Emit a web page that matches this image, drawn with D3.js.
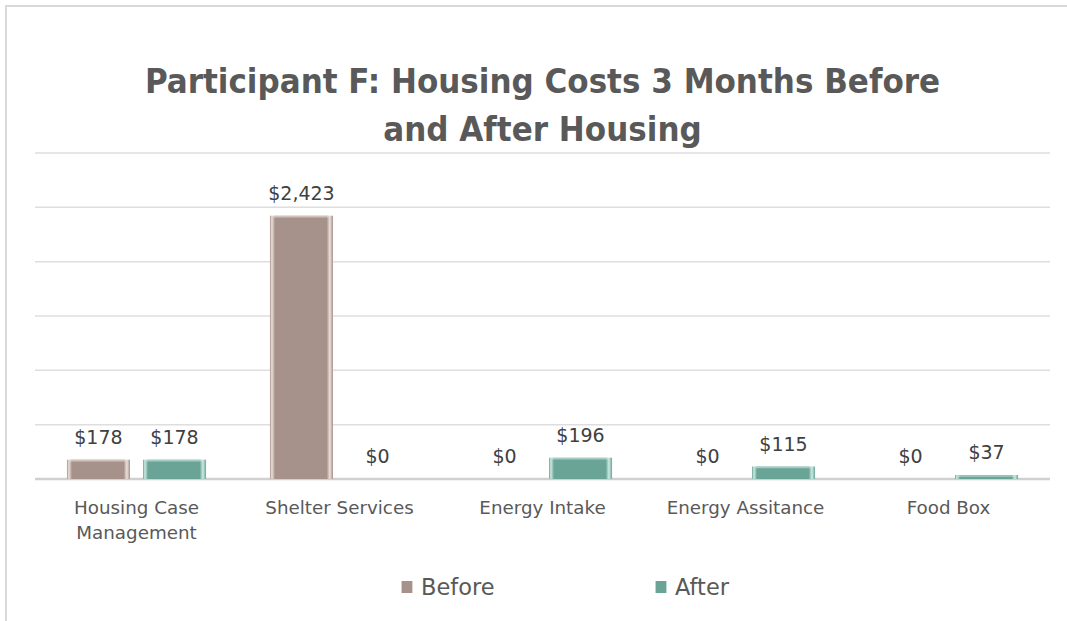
<!DOCTYPE html>
<html>
<head>
<meta charset="utf-8">
<script src="https://cdn.jsdelivr.net/npm/d3@7"></script>
<style>
	body { margin: 0; background: #fff; }
	svg { display: block; }
</style>
</head>
<body>
<svg id="vis" width="1067" height="621"></svg>
<script>
var categories = [["Housing Case", "Management"], ["Shelter Services"], ["Energy Intake"], ["Energy Assitance"], ["Food Box"]];
var seriesNames = ["Before", "After"];
var before = [178, 2423, 0, 0, 0];
var after = [178, 0, 196, 115, 37];
var yTicks = [0, 500, 1000, 1500, 2000, 2500, 3000];
var titleLines = ["Participant F: Housing Costs 3 Months Before", "and After Housing"];

var colors = { Before: "#a6928b", After: "#6aa497" };
var light = { Before: "#ece1dc", After: "#cdeae2" };

var svg = d3.select("#vis");
var plotLeft = 35, plotRight = 1050, plotTop = 153, plotBase = 479;

// chart frame
svg.append("path")
   .attr("d", "M6,621 V6 H1067")
   .attr("fill", "none")
   .attr("stroke", "#d9d9d9")
   .attr("stroke-width", 2);

svg.selectAll("text.title")
   .data(titleLines)
   .enter()
   .append("text")
   .attr("class", "title")
   .attr("x", (plotLeft + plotRight) / 2)
   .attr("y", (d, i) => 93 + i * 48)
   .attr("text-anchor", "middle")
   .attr("font-family", "'DejaVu Sans Condensed', 'DejaVu Sans', sans-serif")
   .attr("font-weight", "bold")
   .attr("font-size", 34.5)
   .attr("fill", "#595959")
   .text(d => d);

var x = d3.scaleBand().domain(d3.range(categories.length)).range([plotLeft, plotRight]);
var xs = d3.scaleBand().domain(seriesNames).range([0, x.bandwidth()]).paddingInner(0.171).paddingOuter(0.42);
var y = d3.scaleLinear().domain([0, 3000]).range([plotBase, plotTop]);

// gridlines
svg.selectAll("line.grid")
   .data(yTicks)
   .enter()
   .append("line")
   .attr("x1", plotLeft)
   .attr("x2", plotRight)
   .attr("y1", d => y(d))
   .attr("y2", d => y(d))
   .attr("stroke", d => d === 0 ? "#d0d0d0" : "#dedede")
   .attr("stroke-width", d => d === 0 ? 2.5 : 1.5);

// bevel gradients
var defs = svg.append("defs");
seriesNames.forEach(s => {
	var g = defs.append("linearGradient").attr("id", "g" + s).attr("x1", "0").attr("x2", "1").attr("y1", "0").attr("y2", "0");
	g.append("stop").attr("offset", "0").attr("stop-color", colors[s]);
	g.append("stop").attr("offset", "0.03").attr("stop-color", light[s]);
	g.append("stop").attr("offset", "0.08").attr("stop-color", colors[s]);
	g.append("stop").attr("offset", "0.9").attr("stop-color", colors[s]);
	g.append("stop").attr("offset", "0.95").attr("stop-color", light[s]);
	g.append("stop").attr("offset", "1").attr("stop-color", colors[s]);
});

var rows = [];
categories.forEach((c, i) => {
	rows.push({ cat: i, s: "Before", v: before[i] });
	rows.push({ cat: i, s: "After", v: after[i] });
});

var bars = svg.selectAll("g.bar")
	.data(rows)
	.enter()
	.append("g")
	.attr("class", "bar");

bars.append("rect")
	.attr("x", d => x(d.cat) + xs(d.s))
	.attr("y", d => y(d.v))
	.attr("width", xs.bandwidth())
	.attr("height", d => plotBase - y(d.v))
	.attr("fill", d => "url(#g" + d.s + ")");

bars.filter(d => d.v > 0).append("line")
	.attr("x1", d => x(d.cat) + xs(d.s) + 3)
	.attr("x2", d => x(d.cat) + xs(d.s) + xs.bandwidth() - 3)
	.attr("y1", d => y(d.v) + 1)
	.attr("y2", d => y(d.v) + 1)
	.attr("stroke", d => light[d.s])
	.attr("stroke-opacity", 0.6)
	.attr("stroke-width", 1.5);

bars.append("text")
	.attr("x", d => x(d.cat) + xs(d.s) + xs.bandwidth() / 2)
	.attr("y", d => y(d.v) - 16)
	.attr("text-anchor", "middle")
	.attr("font-family", "'DejaVu Sans', sans-serif")
	.attr("font-size", 19)
	.attr("fill", "#404040")
	.text(d => d3.format("$,")(d.v));

// category labels
var catLabels = svg.selectAll("text.cat")
	.data(categories)
	.enter()
	.append("text")
	.attr("class", "cat")
	.attr("x", (d, i) => x(i) + x.bandwidth() / 2)
	.attr("y", 514)
	.attr("text-anchor", "middle")
	.attr("font-family", "'DejaVu Sans', sans-serif")
	.attr("font-size", 18.3)
	.attr("fill", "#595959");
catLabels.selectAll("tspan")
	.data(d => d)
	.enter()
	.append("tspan")
	.attr("x", function() { return this.parentNode.getAttribute("x"); })
	.attr("dy", (d, i) => i === 0 ? 0 : 25)
	.text(d => d);

// legend
var legendX = { Before: 401, After: 655 };
var legend = svg.selectAll("g.legend")
	.data(seriesNames)
	.enter()
	.append("g")
	.attr("class", "legend")
	.attr("transform", d => "translate(" + legendX[d] + ",587)");
legend.append("rect")
	.attr("x", 0)
	.attr("y", -6)
	.attr("width", 12)
	.attr("height", 12)
	.attr("fill", d => "url(#g" + d + ")");
legend.append("text")
	.attr("x", 20)
	.attr("y", 8)
	.attr("font-family", "'DejaVu Sans', sans-serif")
	.attr("font-size", 22.5)
	.attr("fill", "#595959")
	.text(d => d);
</script>
</body>
</html>
